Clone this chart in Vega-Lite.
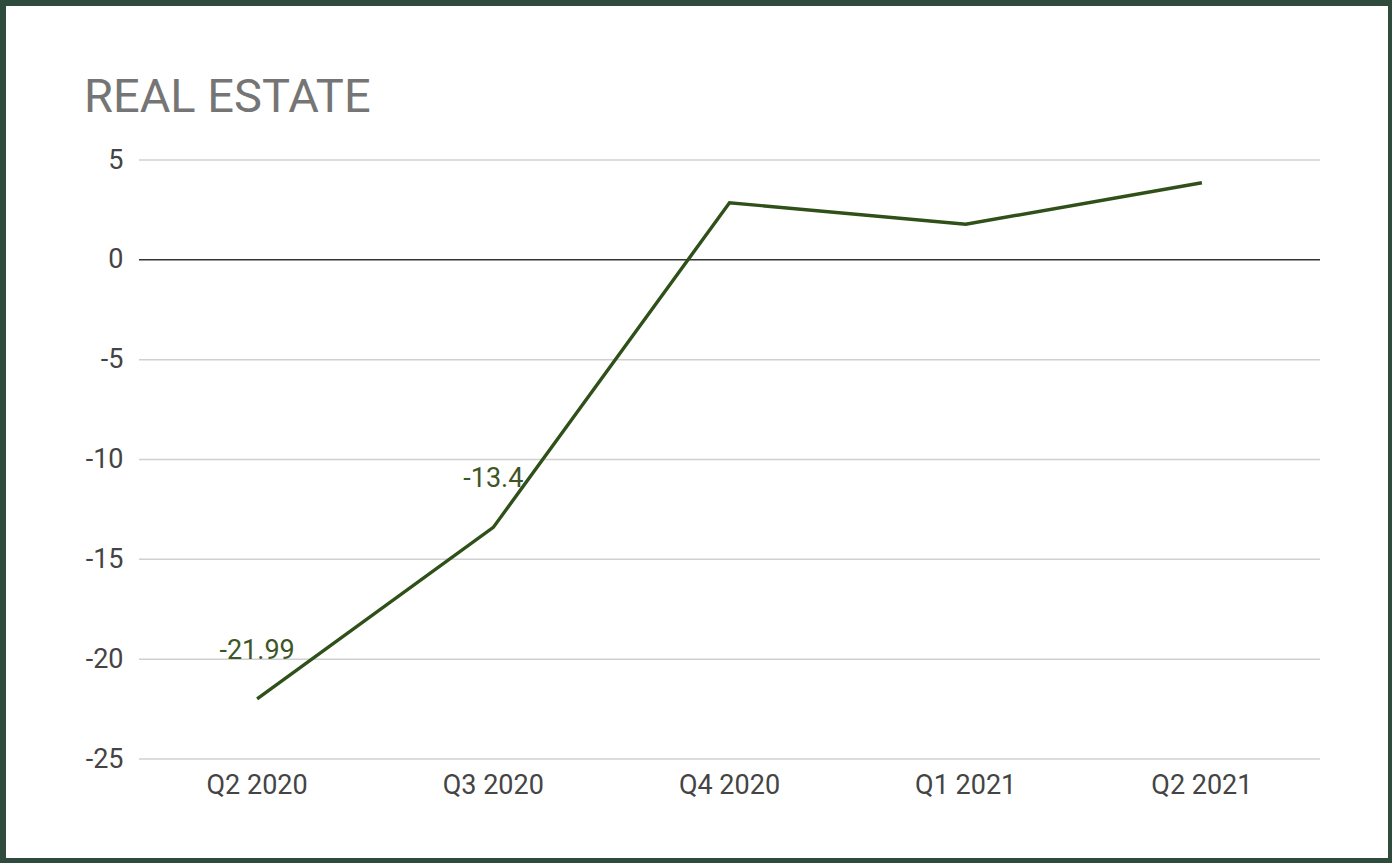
{
  "$schema": "https://vega.github.io/schema/vega-lite/v6.json",
  "width": 1382,
  "height": 852,
  "autosize": {"type": "none"},
  "padding": {"left": 6, "top": 6, "right": 4, "bottom": 5},
  "background": "#2e4b3d",
  "config": {
    "view": {"fill": "white", "stroke": null},
    "font": "Roboto"
  },
  "title": {
    "text": "REAL ESTATE",
    "anchor": "start",
    "frame": "group",
    "orient": "top",
    "offset": 0,
    "baseline": "alphabetic",
    "dx": 78,
    "dy": 153,
    "font": "Roboto",
    "fontSize": 47,
    "fontWeight": "normal",
    "color": "#757575"
  },
  "datasets": {
    "series": [
      {"quarter": "Q2 2020", "value": -21.99, "label": "-21.99"},
      {"quarter": "Q3 2020", "value": -13.4, "label": "-13.4"},
      {"quarter": "Q4 2020", "value": 2.86, "label": ""},
      {"quarter": "Q1 2021", "value": 1.78, "label": ""},
      {"quarter": "Q2 2021", "value": 3.86, "label": ""}
    ],
    "grid": [
      {"g": -25}, {"g": -20}, {"g": -15}, {"g": -10}, {"g": -5}, {"g": 5}
    ]
  },
  "layer": [
    {
      "data": {"name": "grid"},
      "mark": {"type": "rule", "color": "#d0d0d0", "strokeWidth": 1.5},
      "encoding": {
        "y": {"field": "g", "type": "quantitative"},
        "x": {"datum": "Q2 2020", "type": "nominal", "bandPosition": 0},
        "x2": {"datum": "Q2 2021", "bandPosition": 1}
      }
    },
    {
      "data": {"values": [{"z": 0}]},
      "mark": {"type": "rule", "color": "#333333", "strokeWidth": 1.5},
      "encoding": {
        "y": {"field": "z", "type": "quantitative"},
        "x": {"datum": "Q2 2020", "type": "nominal", "bandPosition": 0},
        "x2": {"datum": "Q2 2021", "bandPosition": 1}
      }
    },
    {
      "data": {"name": "series"},
      "mark": {"type": "line", "color": "#2f5119", "strokeWidth": 3.4},
      "encoding": {
        "x": {
          "field": "quarter",
          "type": "nominal",
          "sort": null,
          "scale": {"type": "band", "domain": ["Q2 2020", "Q3 2020", "Q4 2020", "Q1 2021", "Q2 2021"], "paddingInner": 0, "paddingOuter": 0, "range": [133, 1314]},
          "axis": {
            "title": null,
            "orient": "bottom",
            "offset": -73,
            "domain": false,
            "ticks": false,
            "tickSize": 0,
            "grid": false,
            "labelPadding": 0,
            "labelBaseline": "middle",
            "labelAlign": "center",
            "labelAngle": 0,
            "labelFont": "Roboto",
            "labelFontSize": 27,
            "labelColor": "#444444"
          }
        },
        "y": {
          "field": "value",
          "type": "quantitative",
          "scale": {"domain": [-25, 5], "range": [753, 154], "nice": false, "zero": false},
          "axis": {
            "title": null,
            "orient": "left",
            "offset": -119,
            "values": [-25, -20, -15, -10, -5, 0, 5],
            "labelExpr": "replace(datum.label, '\u2212', '-')",
            "domain": false,
            "ticks": false,
            "tickSize": 0,
            "grid": false,
            "labelPadding": 2,
            "labelFont": "Roboto",
            "labelFontSize": 27,
            "labelColor": "#444444"
          }
        }
      }
    },
    {
      "data": {"name": "series"},
      "mark": {"type": "text", "dy": -48, "font": "Roboto", "fontSize": 27, "color": "#3d5628", "baseline": "middle", "align": "center"},
      "encoding": {
        "x": {"field": "quarter", "type": "nominal", "sort": null},
        "y": {"field": "value", "type": "quantitative"},
        "text": {"field": "label"}
      }
    }
  ]
}
